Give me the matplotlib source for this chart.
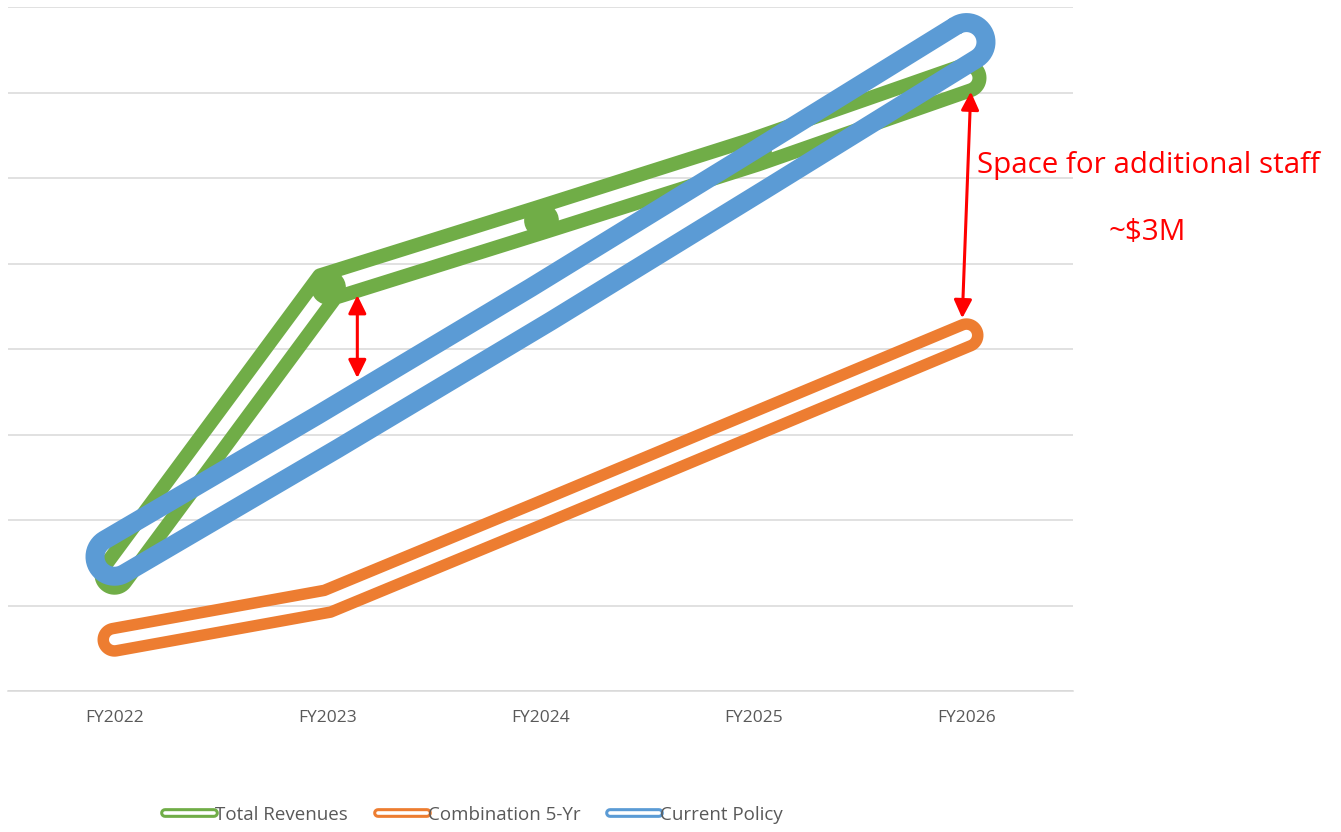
import numpy as np
import matplotlib
matplotlib.use("Agg")
import matplotlib.pyplot as plt
from matplotlib.lines import Line2D
from matplotlib.patches import Polygon
import matplotlib.patheffects as pe

# ---- data ($M, relative scale) ----
years = ["FY2022", "FY2023", "FY2024", "FY2025", "FY2026"]
total_revenues = [1.36, 4.73, 5.51, 6.30, 7.17]
combination_5yr = [0.60, 1.05, 2.08, 3.12, 4.16]
current_policy = [1.57, 3.03, 4.52, 6.05, 7.59]

series_names = ["Total Revenues", "Combination 5-Yr", "Current Policy"]
colors = ["#70AD47", "#ED7D31", "#5B9BD5"]

# staff-space arrows: (x0, y0) -> (x1, y1) in data units
arrow_fy2023 = [(1.14, 4.63), (1.14, 3.66)]
arrow_fy2026 = [(4.02, 7.01), (3.98, 4.36)]

DPI = 100
fig = plt.figure(figsize=(13.41, 8.32), dpi=DPI)
ax = fig.add_axes([8 / 1341, 1 - 691 / 832, 1065 / 1341, 684 / 832])
ax.set_xlim(-0.5, len(years) - 0.5)
ax.set_ylim(0, 8)

grid_c = "#D9D9D9"
for s in ["top", "right", "left"]:
    ax.spines[s].set_visible(False)
ax.spines["bottom"].set_color(grid_c)
ax.spines["bottom"].set_linewidth(1.1)
ax.set_yticks(range(0, 9))
ax.yaxis.grid(True, color=grid_c, linewidth=1.1)
ax.set_axisbelow(True)
ax.tick_params(axis="y", left=False, labelleft=False)
ax.set_xticks(range(len(years)))
ax.set_xticklabels(years, fontsize=12.5, color="#595959", family="Open Sans")
ax.tick_params(axis="x", length=0, pad=14)

fig.canvas.draw()


def hollow_line(ax, xs, ys, color, outer_px, rim_px, zorder):
    """Stroke the outline of a thick round-capped line, leaving it hollow."""
    pts = ax.transData.transform(np.column_stack([xs, ys]))
    r = (outer_px - rim_px) / 2.0
    d = np.diff(pts, axis=0)
    d /= np.linalg.norm(d, axis=1)[:, None]
    seg_n = np.column_stack([-d[:, 1], d[:, 0]])
    normals = []
    for i in range(len(pts)):
        if i == 0:
            n = seg_n[0]
        elif i == len(pts) - 1:
            n = seg_n[-1]
        else:
            m = seg_n[i - 1] + seg_n[i]
            m /= np.linalg.norm(m)
            n = m / np.dot(m, seg_n[i])
        normals.append(n)
    normals = np.array(normals)
    left = pts + r * normals
    right = pts - r * normals
    th_end = np.arctan2(seg_n[-1][1], seg_n[-1][0])
    t = np.linspace(th_end, th_end - np.pi, 24)
    cap_end = pts[-1] + r * np.column_stack([np.cos(t), np.sin(t)])
    th_start = np.arctan2(seg_n[0][1], seg_n[0][0])
    t = np.linspace(th_start + np.pi, th_start, 24)
    cap_start = pts[0] + r * np.column_stack([np.cos(t), np.sin(t)])
    outline = np.vstack([left, cap_end, right[::-1], cap_start])
    data = ax.transData.inverted().transform(outline)
    ax.add_patch(Polygon(data, closed=True, fill=False, edgecolor=color,
                         linewidth=rim_px * 72 / DPI, joinstyle="round",
                         zorder=zorder, clip_on=False))


x = np.arange(len(years))

# Total Revenues
hollow_line(ax, x, total_revenues, colors[0], 40, 14, 3)
ax.plot(x, total_revenues, linestyle="none", marker="o", markersize=25,
        markevery=[1, 2, 3], color=colors[0], markeredgewidth=0, zorder=3.1,
        clip_on=False)
# Combination 5-Yr
hollow_line(ax, x, combination_5yr, colors[1], 34, 11.5, 4)
# Current Policy
hollow_line(ax, x, current_policy, colors[2], 58, 19, 5)

# staff-space arrows
red = "#FF0000"
for (x0, y0), (x1, y1) in [arrow_fy2023, arrow_fy2026]:
    ax.annotate("", xy=(x1, y1), xytext=(x0, y0),
                arrowprops=dict(arrowstyle="<|-|>,head_length=0.55,head_width=0.27",
                                mutation_scale=20, color=red, lw=2.2,
                                shrinkA=0, shrinkB=0),
                zorder=6, annotation_clip=False)

fig.text(977 / 1341, 1 - 173 / 832, "Space for additional staff", color=red,
         fontsize=21.3, family="Open Sans", ha="left", va="baseline")
fig.text(1108 / 1341, 1 - 240 / 832, "~$3M", color=red,
         fontsize=21.3, family="Open Sans", ha="left", va="baseline")

# legend with hollow line samples
handles = []
for name, c in zip(series_names, colors):
    h = Line2D([], [], color="white", lw=2.6, solid_capstyle="round",
               path_effects=[pe.Stroke(linewidth=7, foreground=c, capstyle="round"),
                             pe.Normal()])
    handles.append(h)
leg = fig.legend(handles, series_names, loc="center", ncol=3,
                 bbox_to_anchor=(474 / 1341, 1 - 815 / 832), frameon=False,
                 handlelength=2.6, handletextpad=0.05, columnspacing=1.6,
                 prop={"family": "Open Sans", "size": 13.5})
for t in leg.get_texts():
    t.set_color("#595959")

fig.savefig("out.png", dpi=DPI)
